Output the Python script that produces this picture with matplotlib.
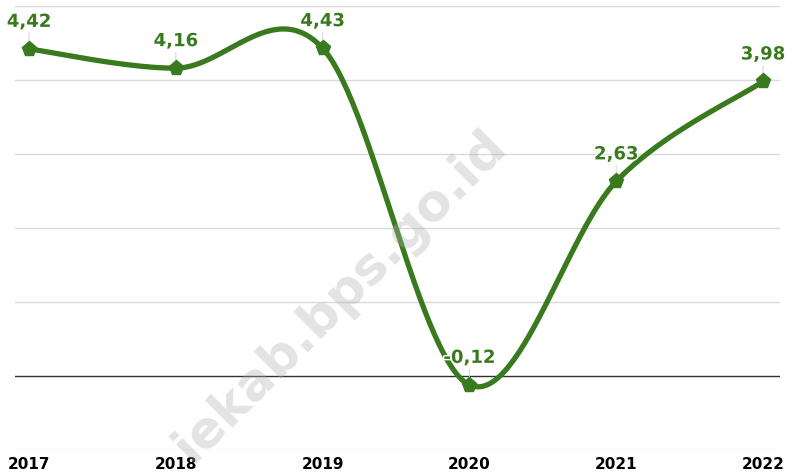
import numpy as np
import matplotlib.pyplot as plt
import matplotlib.patheffects as pe

years = [2017, 2018, 2019, 2020, 2021, 2022]
values = [4.42, 4.16, 4.43, -0.12, 2.63, 3.98]
labels = ["4,42", "4,16", "4,43", "-0,12", "2,63", "3,98"]

green = "#3a7a1e"
grid_c = "#d9d9d9"


def smooth_curve(xs, ys, n=60):
    # catmull-rom style bezier smoothing (like spreadsheet "smoothed line")
    xs = np.asarray(xs, float)
    ys = np.asarray(ys, float)
    px = np.concatenate([[xs[0]], xs, [xs[-1]]])
    py = np.concatenate([[ys[0]], ys, [ys[-1]]])
    out_x, out_y = [], []
    t = np.linspace(0, 1, n)
    for i in range(1, len(px) - 2):
        p0x, p1x, p2x, p3x = px[i - 1], px[i], px[i + 1], px[i + 2]
        p0y, p1y, p2y, p3y = py[i - 1], py[i], py[i + 1], py[i + 2]
        b1x, b1y = p1x + (p2x - p0x) / 6, p1y + (p2y - p0y) / 6
        b2x, b2y = p2x - (p3x - p1x) / 6, p2y - (p3y - p1y) / 6
        bx = (1-t)**3*p1x + 3*(1-t)**2*t*b1x + 3*(1-t)*t**2*b2x + t**3*p2x
        by = (1-t)**3*p1y + 3*(1-t)**2*t*b1y + 3*(1-t)*t**2*b2y + t**3*p2y
        out_x.extend(bx)
        out_y.extend(by)
    return np.array(out_x), np.array(out_y)


fig = plt.figure(figsize=(7.93, 4.74), dpi=100)
ax = fig.add_axes([15/793, 1 - 450/474, 765/793, 444/474])
ax.set_xlim(years[0] - 14/146.8, years[-1] + 17/146.8)
ax.set_ylim(-1, 5)

for s in ax.spines.values():
    s.set_visible(False)
ax.set_yticks(range(-1, 6))
ax.set_yticklabels([])
ax.tick_params(axis='y', length=0)
for v in range(-1, 6):
    if v == 0:
        ax.axhline(v, color="#303030", lw=1.0, zorder=1)
    else:
        ax.axhline(v, color=grid_c, lw=1.0, zorder=0)

ax.set_xticks(years)
ax.set_xticklabels([str(y) for y in years], fontsize=11, fontweight='bold', color='black')
ax.tick_params(axis='x', length=0, pad=5)

sx, sy = smooth_curve(years, values)
ax.plot(sx, sy, color=green, lw=3.8, solid_capstyle='round', zorder=3)
ax.plot(years, values, linestyle='none', marker='p', markersize=11,
        color=green, zorder=4)

for x, y, lab in zip(years, values, labels):
    ax.annotate("", xy=(x, y), xytext=(0, 16), textcoords='offset pixels',
                xycoords='data',
                arrowprops=dict(arrowstyle='-', color=grid_c, lw=0.8,
                                shrinkA=0, shrinkB=4), zorder=2)
    ax.annotate(lab, xy=(x, y), xytext=(0, 27), textcoords='offset pixels',
                ha='center', va='center', fontsize=13, fontweight='bold',
                color=green, zorder=5,
                path_effects=[pe.withStroke(linewidth=2, foreground='white')])

# watermark (only the part visible in the frame)
fig.text(508/793, 1 - 148/474, "iekab.bps.go.id", fontsize=37, fontweight='bold',
         color='#b0b0b0', alpha=0.35, rotation=45, rotation_mode='anchor',
         ha='right', va='baseline', zorder=10)

fig.savefig("out.png", dpi=100)
